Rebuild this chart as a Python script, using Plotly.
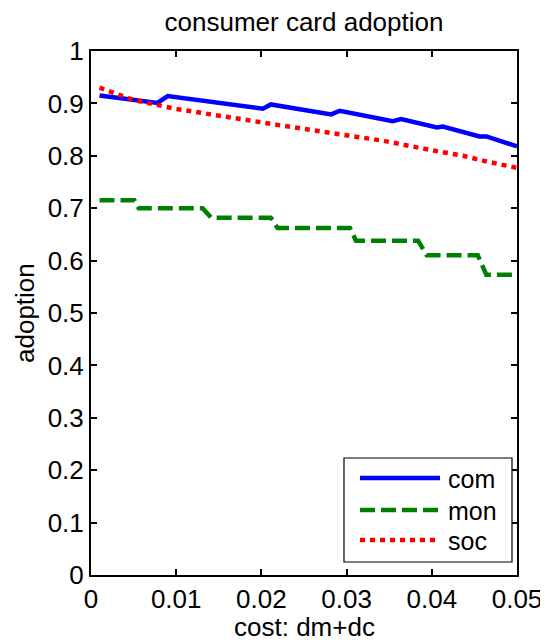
import plotly.graph_objects as go

# ---- data ----
com_x = [0.001, 0.0078, 0.009, 0.0202, 0.0211, 0.0282, 0.0292, 0.0354, 0.0364,
         0.0406, 0.0413, 0.0456, 0.0464, 0.050]
com_y = [0.915, 0.901, 0.914, 0.890, 0.898, 0.879, 0.886, 0.866, 0.870,
         0.854, 0.856, 0.837, 0.837, 0.818]

mon_x = [0.001, 0.0051, 0.0056, 0.0131, 0.0141, 0.0211, 0.0219, 0.0304, 0.0311,
         0.0384, 0.0394, 0.0454, 0.0464, 0.050]
mon_y = [0.715, 0.715, 0.700, 0.700, 0.682, 0.682, 0.662, 0.662, 0.638,
         0.638, 0.610, 0.610, 0.573, 0.573]

soc_x = [0.001, 0.0049, 0.0098, 0.0158, 0.0219, 0.028, 0.0342, 0.0402, 0.0437,
         0.0462, 0.050]
soc_y = [0.930, 0.907, 0.890, 0.874, 0.859, 0.844, 0.829, 0.810, 0.800,
         0.790, 0.777]

series_names = ["com", "mon", "soc"]
series_colors = ["#0000ff", "#008000", "#ff0000"]
series_dash = ["solid", "15px,6px", "5px,5px"]

x_ticks = [0, 0.01, 0.02, 0.03, 0.04, 0.05]
x_tick_text = ["0", "0.01", "0.02", "0.03", "0.04", "0.05"]
y_ticks = [0, 0.1, 0.2, 0.3, 0.4, 0.5, 0.6, 0.7, 0.8, 0.9, 1]
y_tick_text = ["0", "0.1", "0.2", "0.3", "0.4", "0.5", "0.6", "0.7", "0.8", "0.9", "1"]

FONT = "Liberation Sans, Arial, sans-serif"
FS = 26
LFS = 25

W, H = 540, 636
ML, MR, MT, MB = 83, 31, 43, 69
PW, PH = W - ML - MR, H - MT - MB
OFF = 8  # page offset of the figure


def xp(page_x):
    return (page_x - OFF - ML) / PW


def yp(page_y):
    return 1 - (page_y - OFF - MT) / PH


fig = go.Figure()
for name, xs, ys, col, dsh in zip(series_names, [com_x, mon_x, soc_x],
                                  [com_y, mon_y, soc_y], series_colors, series_dash):
    fig.add_trace(go.Scatter(x=xs, y=ys, mode="lines", name=name,
                             line=dict(color=col, width=4.5, dash=dsh)))

axis_common = dict(
    showgrid=False, zeroline=False, showline=True, linecolor="black", linewidth=2,
    mirror="ticks", ticks="inside", ticklen=6, tickwidth=1.5, tickcolor="black",
    automargin=False,
    tickfont=dict(family=FONT, size=FS, color="black"),
)

# legend box (lower right corner, as in the reference)
shapes = [dict(type="rect", xref="paper", yref="paper",
               x0=xp(344), x1=xp(512), y0=yp(562), y1=yp(458),
               fillcolor="white", line=dict(color="black", width=1.2), layer="above")]
annotations = []
row_y = [478, 510, 540]
for name, col, dsh, ry in zip(series_names, series_colors, series_dash, row_y):
    shapes.append(dict(type="line", xref="paper", yref="paper",
                       x0=xp(360), x1=xp(440), y0=yp(ry), y1=yp(ry),
                       line=dict(color=col, width=4.5, dash=dsh), layer="above"))
    annotations.append(dict(text=name, xref="paper", yref="paper", x=xp(446), y=yp(ry + 1),
                            xanchor="left", yanchor="middle", showarrow=False,
                            font=dict(family=FONT, size=LFS, color="black")))

annotations += [
    dict(text="cost: dm+dc", xref="paper", yref="paper", x=0.5, y=0,
         xanchor="center", yanchor="middle", yshift=-52, showarrow=False,
         font=dict(family=FONT, size=FS, color="black")),
    dict(text="adoption", xref="paper", yref="paper", x=0, y=0.5,
         xanchor="center", yanchor="middle", xshift=-(ML - 17), textangle=-90,
         borderpad=0, showarrow=False, font=dict(family=FONT, size=FS, color="black")),
]

fig.update_layout(
    width=W, height=H,
    margin=dict(l=ML, r=MR, t=MT, b=MB),
    plot_bgcolor="white", paper_bgcolor="white",
    font=dict(family=FONT, size=FS, color="black"),
    title=dict(text="consumer card adoption", x=(ML + PW / 2) / W,
               xanchor="center", y=1 - 14 / H, yanchor="middle", yref="container",
               font=dict(family=FONT, size=FS, color="black")),
    xaxis=dict(range=[0, 0.05], tickvals=x_ticks, ticktext=x_tick_text, **axis_common),
    yaxis=dict(range=[0, 1], tickvals=y_ticks, ticktext=y_tick_text, **axis_common),
    showlegend=False,
    shapes=shapes,
    annotations=annotations,
)

fig.write_html("out.html")
